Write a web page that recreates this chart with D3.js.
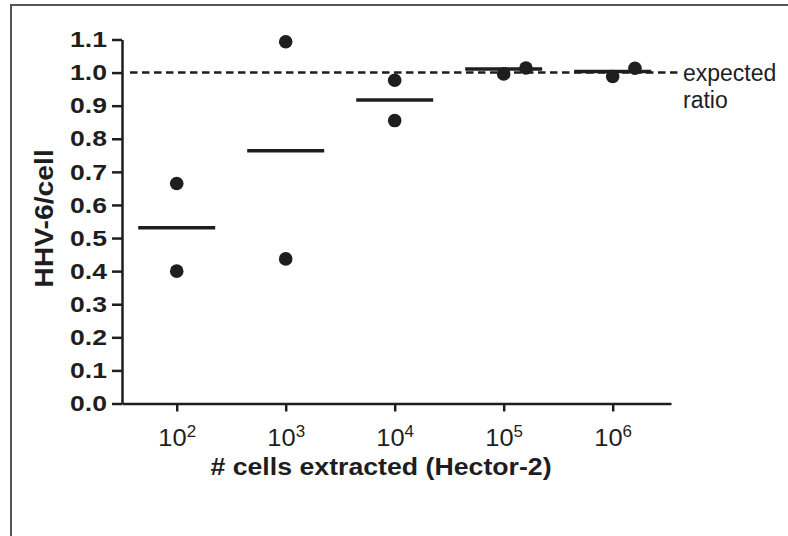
<!DOCTYPE html>
<html>
<head>
<meta charset="utf-8">
<script src="https://cdn.jsdelivr.net/npm/d3@7"></script>
<style>
  body { margin: 0; background: #fff; }
  svg { display: block; font-family: "Liberation Sans", Arial, Helvetica, sans-serif; }
</style>
</head>
<body>
<div id="chart"></div>
<script>
// categories: number of cells extracted
const cells = [1e2, 1e3, 1e4, 1e5, 1e6];
const exponents = ["2", "3", "4", "5", "6"];

// individual measurements (cells extracted, HHV-6/cell)
const dotCells = [1e2, 1e2, 1e3, 1e3, 1e4, 1e4, 1e5, 1.6e5, 1e6, 1.6e6];
const dotRatios = [0.665, 0.40, 1.093, 0.437, 0.977, 0.855, 0.996, 1.014, 0.988, 1.013];

// mean of each group
const meanRatios = [0.531, 0.764, 0.917, 1.011, 1.003];

const yTicks = [0, 0.1, 0.2, 0.3, 0.4, 0.5, 0.6, 0.7, 0.8, 0.9, 1.0, 1.1];
const expected = 1.0;

const width = 788, height = 536;
const ink = "#1e1e1e";
const stretch = 1.18; // reference type is set a little wide

const svg = d3.select("#chart").append("svg")
  .attr("width", width)
  .attr("height", height);

// frame
svg.append("rect")
  .attr("x", 11).attr("y", 5)
  .attr("width", 820).attr("height", 580)
  .attr("fill", "none")
  .attr("stroke", "#555")
  .attr("stroke-width", 2);

const x = d3.scaleLog()
  .domain([Math.pow(10, 1.498), Math.pow(10, 6.535)])
  .range([122, 671]);

const y = d3.scaleLinear()
  .domain([0, 1.1])
  .range([403.5, 39.5]);

// y axis
const yAxis = svg.append("g")
  .attr("transform", `translate(${x.range()[0]},0)`)
  .call(d3.axisLeft(y)
    .tickValues(yTicks)
    .tickFormat(d3.format(".1f"))
    .tickSize(10)
    .tickSizeOuter(0)
    .tickPadding(5));

yAxis.selectAll("text")
  .attr("font-size", 22.5)
  .attr("font-weight", "bold")
  .attr("fill", ink)
  .attr("x", -15 / stretch)
  .attr("transform", `scale(${stretch},1)`);

// x axis
const xAxis = svg.append("g")
  .attr("transform", `translate(0,${y(0)})`)
  .call(d3.axisBottom(x)
    .tickValues(cells)
    .tickFormat("")
    .tickSize(8)
    .tickSizeOuter(0));

xAxis.selectAll(".tick")
  .append("text")
  .attr("y", 43)
  .attr("text-anchor", "middle")
  .attr("fill", ink)
  .attr("font-size", 24)
  .attr("transform", "scale(1.06,1)")
  .each(function (d, i) {
    const t = d3.select(this);
    t.append("tspan").text("10");
    t.append("tspan")
      .attr("dy", -9)
      .attr("font-size", 16)
      .text(exponents[i]);
  });

svg.selectAll(".domain, .tick line")
  .attr("stroke", ink)
  .attr("stroke-width", 2.5);

// axis titles
svg.append("text")
  .attr("transform", "translate(381,475) scale(1.09,1)")
  .attr("text-anchor", "middle")
  .attr("font-size", 24.5)
  .attr("font-weight", "bold")
  .attr("fill", ink)
  .text("# cells extracted (Hector-2)");

svg.append("text")
  .attr("transform", "translate(53,218.5) rotate(-90) scale(1.09,1)")
  .attr("text-anchor", "middle")
  .attr("font-size", 26)
  .attr("font-weight", "bold")
  .attr("fill", ink)
  .text("HHV-6/cell");

// expected ratio reference line
svg.append("line")
  .attr("x1", 130)
  .attr("x2", 680)
  .attr("y1", y(expected))
  .attr("y2", y(expected))
  .attr("stroke", ink)
  .attr("stroke-width", 2.5)
  .attr("stroke-dasharray", "7.5,4.5");

svg.append("text")
  .attr("x", 683)
  .attr("y", 81)
  .attr("font-size", 23)
  .attr("fill", ink)
  .selectAll("tspan")
  .data(["expected", "ratio"])
  .join("tspan")
  .attr("x", 683)
  .attr("dy", (d, i) => i === 0 ? 0 : 27)
  .text(d => d);

// group means
const halfWidth = 38.5;
svg.append("g")
  .selectAll("line")
  .data(cells)
  .join("line")
  .attr("x1", d => x(d) - halfWidth)
  .attr("x2", d => x(d) + halfWidth)
  .attr("y1", (d, i) => y(meanRatios[i]))
  .attr("y2", (d, i) => y(meanRatios[i]))
  .attr("stroke", ink)
  .attr("stroke-width", 3.5);

// individual points
svg.append("g")
  .selectAll("circle")
  .data(dotRatios)
  .join("circle")
  .attr("cx", (d, i) => x(dotCells[i]))
  .attr("cy", d => y(d))
  .attr("r", 6.8)
  .attr("fill", ink);
</script>
</body>
</html>
